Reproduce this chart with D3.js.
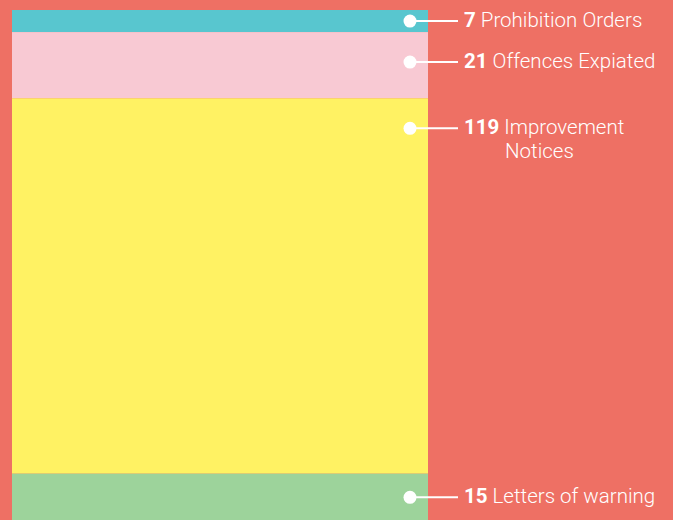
<!DOCTYPE html>
<html>
<head>
<meta charset="utf-8">
<script src="https://cdn.jsdelivr.net/npm/d3@7"></script>
<style>
  html, body { margin: 0; padding: 0; background: #ee7064; }
</style>
</head>
<body>
<div id="chart"></div>
<script>
// data
const categories = ["Prohibition Orders", "Offences Expiated", "Improvement Notices", "Letters of warning"]
const counts = [7, 21, 119, 15]
const labelLines = [["Prohibition Orders"], ["Offences Expiated"], ["Improvement", "Notices"], ["Letters of warning"]]
const colours = ["#58c6cf", "#f8c9d3", "#fff263", "#9dd39b"]

const width = 673
const height = 520
const barLeft = 12
const barRight = 428

const svg = d3.select("#chart")
    .append("svg")
    .attr("width", width)
    .attr("height", height)

svg.append("rect")
    .attr("width", width)
    .attr("height", height)
    .attr("fill", "#ee7064")

// stack the counts top to bottom
let acc = 0
const stacked = counts.map((c, i) => {
    const d = { name: categories[i], value: c, y0: acc, y1: acc + c, lines: labelLines[i], colour: colours[i] }
    acc += c
    return d
})

const y = d3.scaleLinear()
    .domain([0, d3.sum(counts)])
    .range([10, 521])

svg.append("g")
    .selectAll("rect")
    .data(stacked)
    .join("rect")
    .attr("x", barLeft)
    .attr("width", barRight - barLeft)
    .attr("y", d => y(d.y0))
    .attr("height", d => y(d.y1) - y(d.y0))
    .attr("fill", d => d.colour)

// label position: middle of small segments, near the top of big ones
const labelY = d => y(d.y0) + Math.min((y(d.y1) - y(d.y0)) / 2, 30)

const lab = svg.append("g")
    .selectAll("g")
    .data(stacked)
    .join("g")
    .attr("transform", d => "translate(0," + labelY(d) + ")")

lab.append("line")
    .attr("x1", 410)
    .attr("x2", 458)
    .attr("stroke", "white")
    .attr("stroke-width", 2)

lab.append("circle")
    .attr("cx", 410)
    .attr("r", 6.5)
    .attr("fill", "white")

const txt = lab.append("text")
    .attr("x", 464)
    .attr("y", 0)
    .attr("dy", "0.3em")
    .attr("fill", "white")
    .style("font-family", "Roboto, 'Liberation Sans', sans-serif")
    .style("font-size", "20.5px")

txt.append("tspan")
    .style("font-weight", 700)
    .text(d => d.value)

txt.append("tspan")
    .style("font-weight", 300)
    .text(d => " " + d.lines[0])

// second line for wrapped labels, lined up under the first word
lab.filter(d => d.lines.length > 1)
    .append("text")
    .attr("x", 505)
    .attr("y", 24)
    .attr("dy", "0.3em")
    .attr("fill", "white")
    .style("font-family", "Roboto, 'Liberation Sans', sans-serif")
    .style("font-size", "20.5px")
    .style("font-weight", 300)
    .text(d => d.lines[1])
</script>
</body>
</html>
